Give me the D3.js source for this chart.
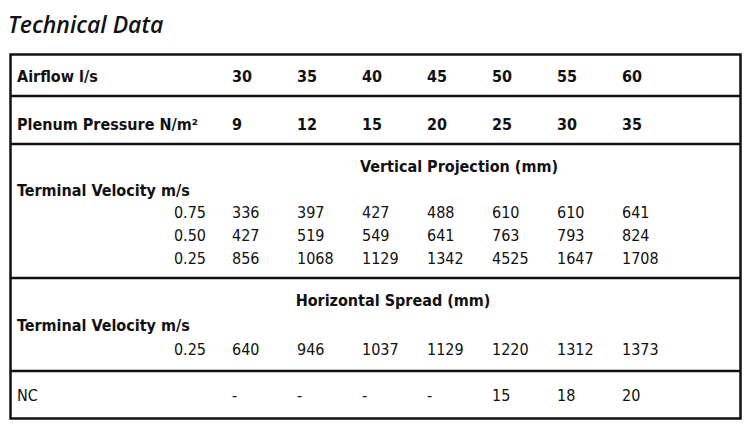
<!DOCTYPE html><html><head><meta charset="utf-8">
<script src="https://cdn.jsdelivr.net/npm/d3@7"></script>
<style>body{margin:0;background:#fff}</style></head><body>
<svg id="c" width="750" height="429"></svg>
<script>
const airflow=[30,35,40,45,50,55,60];
const plenum=[9,12,15,20,25,30,35];
const velocities=["0.75","0.50","0.25"];
const vertical=[[336,397,427,488,610,610,641],[427,519,549,641,763,793,824],[856,1068,1129,1342,4525,1647,1708]];
const spreadVel=["0.25"];
const horizontal=[[640,946,1037,1129,1220,1312,1373]];
const nc=["-","-","-","-",15,18,20];

const svg=d3.select("#c");
const x=d3.scalePoint().domain(d3.range(7)).range([232,622]);
const F="'DejaVu Sans Condensed','DejaVu Sans',sans-serif";
svg.append("text").attr("x",8).attr("y",33).text("Technical Data")
 .style("font-family","'Open Sans',sans-serif").style("font-style","italic").style("font-weight","600").style("font-size","23px").attr("fill","#111");
svg.append("rect").attr("x",10.5).attr("y",54.5).attr("width",730).attr("height",364).attr("fill","none").attr("stroke","#111").attr("stroke-width",2.5);
[96,144,278,371].forEach(y=>svg.append("line").attr("x1",10).attr("x2",741).attr("y1",y).attr("y2",y).attr("stroke","#111").attr("stroke-width",2.5));
function lbl(t,y,bold,xx=17,anchor="start"){return svg.append("text").attr("x",xx).attr("y",y).attr("text-anchor",anchor).text(t)
 .style("font-family",F).style("font-size","16px").style("font-weight",bold?"bold":"normal").attr("fill","#111");}
function row(vals,y,bold){vals.forEach((v,i)=>lbl(String(v),y,bold,x(i)));}
lbl("Airflow l/s",82,true);row(airflow,82,true);
lbl("Plenum Pressure N/m²",130,true);row(plenum,130,true);
lbl("Vertical Projection (mm)",172,true,459,"middle");
lbl("Terminal Velocity m/s",196,true);
vertical.forEach((r,j)=>{const y=218+j*23;lbl(velocities[j],y,false,206,"end");row(r,y,false);});
lbl("Horizontal Spread (mm)",306,true,393,"middle");
lbl("Terminal Velocity m/s",331,true);
horizontal.forEach((r,j)=>{lbl(spreadVel[j],355,false,206,"end");row(r,355,false);});
lbl("NC",401,false);row(nc,401,false);
</script></body></html>
